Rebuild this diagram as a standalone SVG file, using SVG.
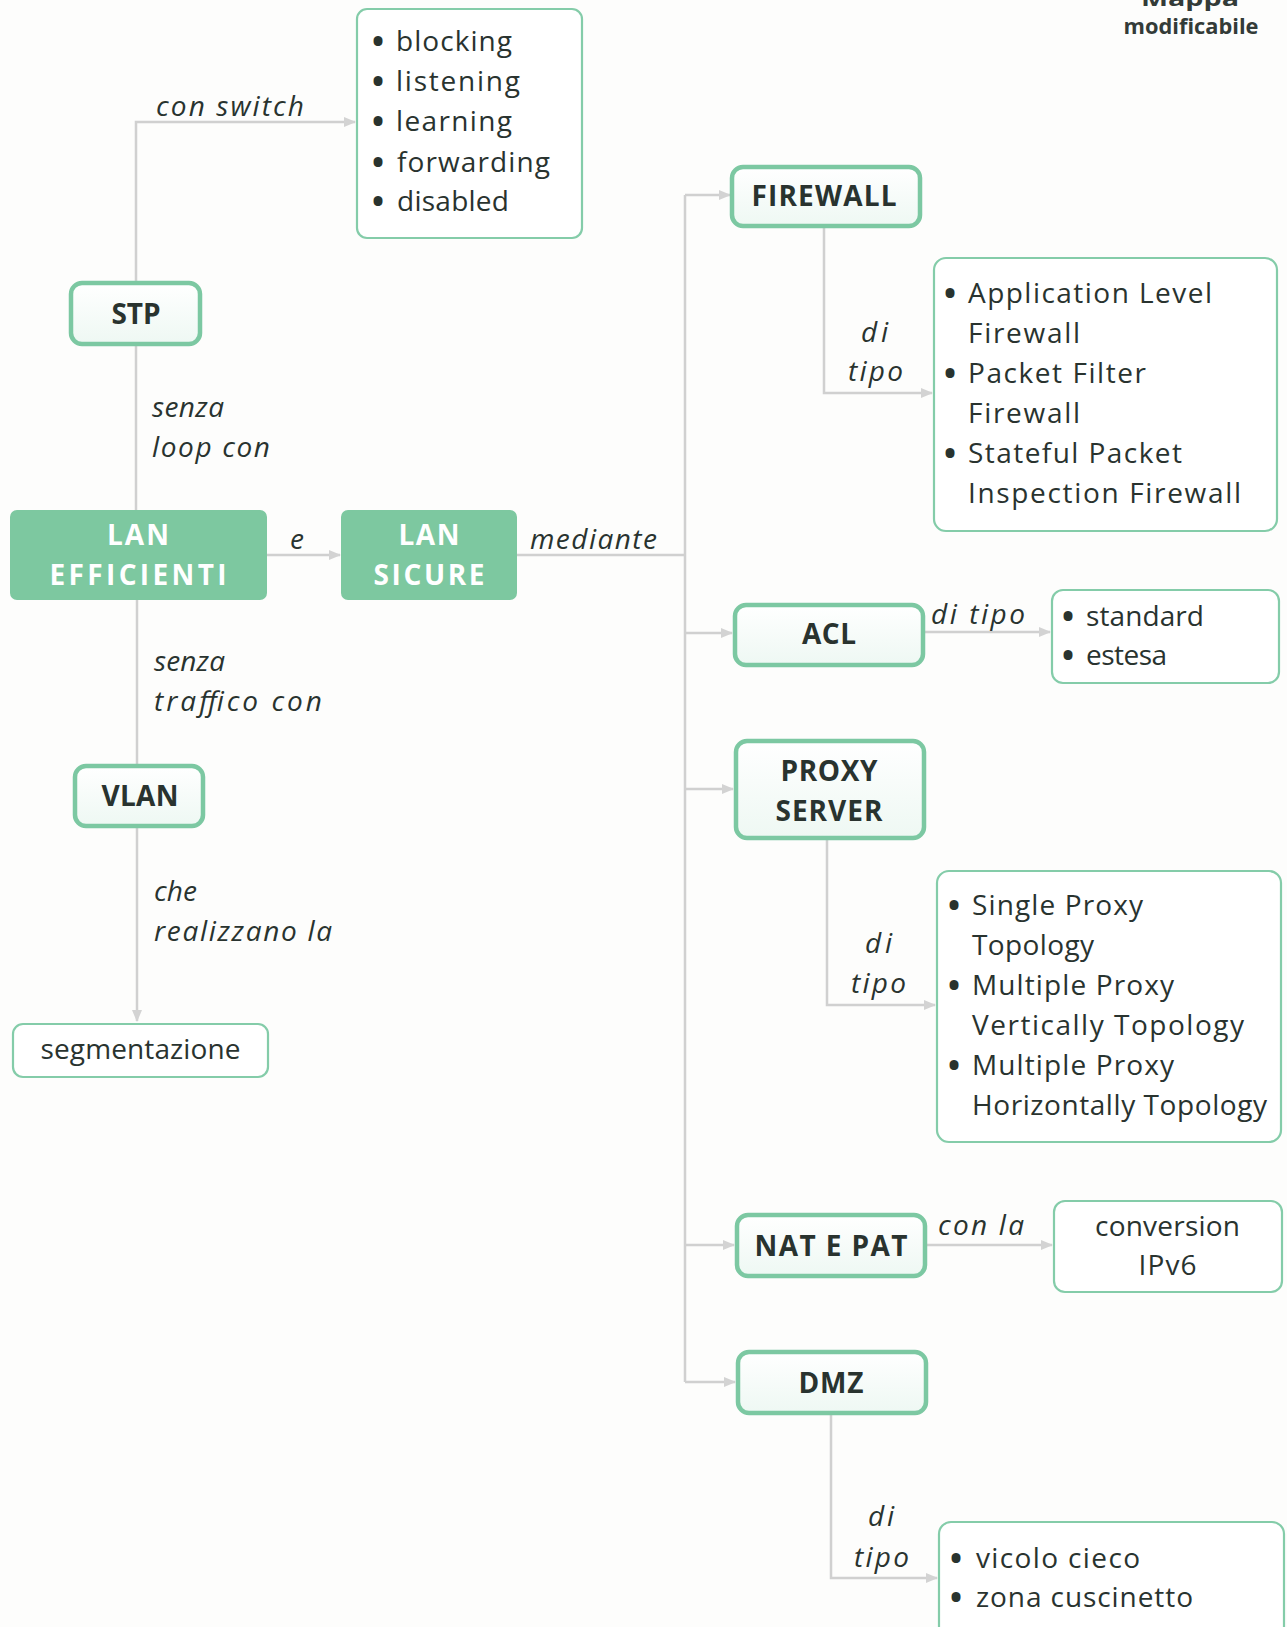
<svg xmlns="http://www.w3.org/2000/svg" width="1287" height="1627" viewBox="0 0 1287 1627">
  <defs>
    <marker id="arr" viewBox="0 0 12 10" refX="11" refY="5" markerWidth="12" markerHeight="10" markerUnits="userSpaceOnUse" orient="auto">
      <path d="M0,0 L12,5 L0,10 Z" fill="#d3d3d3"/>
    </marker>
    <linearGradient id="nodeFill" x1="0" y1="0" x2="0" y2="1">
      <stop offset="0" stop-color="#ffffff"/>
      <stop offset="1" stop-color="#eef8f3"/>
    </linearGradient>
  </defs>
  <style>
    .bg { fill: #fdfdfc; }
    .node rect { fill: url(#nodeFill); stroke: #7cc8a2; stroke-width: 4.5; }
    .solid rect { fill: #7dc8a0; stroke: #7dc8a0; stroke-width: 2; }
    .box rect { fill: #ffffff; stroke: #84cca9; stroke-width: 2.2; }
    text { font-family: "Open Sans", "DejaVu Sans", sans-serif; fill: #29332f; }
    .lbl { font-size: 28px; font-weight: 700; text-anchor: middle; }
    .solid text { fill: #ffffff; }
    .txt { font-size: 28px; }
    .dot { font-size: 32px; font-weight: 700; }
    .ctr { text-anchor: middle; }
    .it { font-size: 28px; font-style: italic; }
    .conn path { fill: none; stroke: #d0d0d0; stroke-width: 2.5; }
    .head { font-size: 22px; font-weight: 700; text-anchor: middle; fill: #333b38; }
  </style>

  <rect class="bg" x="0" y="0" width="1287" height="1627"/>

  <!-- corner caption -->
  <g id="caption">
    <text class="head" x="1190" y="6" textLength="98" lengthAdjust="spacingAndGlyphs">Mappa</text>
    <text class="head" x="1191" y="34" textLength="135" lengthAdjust="spacingAndGlyphs">modificabile</text>
  </g>

  <!-- connectors -->
  <g id="connectors" class="conn">
    <!-- STP to port states -->
    <path d="M136,282 V122 H355" marker-end="url(#arr)"/>
    <!-- LAN EFFICIENTI up to STP -->
    <path d="M136,511 V345"/>
    <!-- LAN EFFICIENTI down to VLAN -->
    <path d="M137,599 V765"/>
    <!-- VLAN to segmentazione -->
    <path d="M137,826 V1021" marker-end="url(#arr)"/>
    <!-- LAN EFFICIENTI to LAN SICURE -->
    <path d="M266,555 H340" marker-end="url(#arr)"/>
    <!-- LAN SICURE to trunk -->
    <path d="M516,555 H685"/>
    <!-- trunk -->
    <path d="M685,195 V1382"/>
    <path d="M685,195 H730" marker-end="url(#arr)"/>
    <path d="M685,633 H732" marker-end="url(#arr)"/>
    <path d="M685,789 H733" marker-end="url(#arr)"/>
    <path d="M685,1245 H734" marker-end="url(#arr)"/>
    <path d="M685,1382 H735" marker-end="url(#arr)"/>
    <!-- FIREWALL types -->
    <path d="M824,227 V393 H932" marker-end="url(#arr)"/>
    <!-- ACL types -->
    <path d="M923,632 H1050" marker-end="url(#arr)"/>
    <!-- PROXY types -->
    <path d="M827,839 V1005 H935" marker-end="url(#arr)"/>
    <!-- NAT conversion -->
    <path d="M925,1245 H1052" marker-end="url(#arr)"/>
    <!-- DMZ types -->
    <path d="M831,1414 V1578 H937" marker-end="url(#arr)"/>

    <!-- connector labels -->
    <text class="it" x="156" y="116" textLength="148">con switch</text>
    <text class="it" x="152" y="417" textLength="72">senza</text>
    <text class="it" x="152" y="457" textLength="118">loop con</text>
    <text class="it" x="290" y="549" textLength="13">e</text>
    <text class="it" x="530" y="549" textLength="127">mediante</text>
    <text class="it" x="154" y="671" textLength="71">senza</text>
    <text class="it" x="154" y="711" textLength="168">traffico con</text>
    <text class="it" x="154" y="901" textLength="43">che</text>
    <text class="it" x="154" y="941" textLength="178">realizzano la</text>
    <text class="it" x="861" y="342" textLength="27">di</text>
    <text class="it" x="848" y="381" textLength="55">tipo</text>
    <text class="it" x="931" y="624" textLength="94">di tipo</text>
    <text class="it" x="865" y="953" textLength="27">di</text>
    <text class="it" x="851" y="993" textLength="55">tipo</text>
    <text class="it" x="938" y="1235" textLength="86">con la</text>
    <text class="it" x="868" y="1526" textLength="26">di</text>
    <text class="it" x="854" y="1567" textLength="55">tipo</text>
  </g>

  <!-- port states -->
  <g id="stp-states" class="box">
    <rect x="357" y="9" width="225" height="229" rx="10"/>
    <text class="dot" x="372" y="53">•</text>
    <text class="txt" x="396" y="51" textLength="116">blocking</text>
    <text class="dot" x="372" y="93">•</text>
    <text class="txt" x="396" y="91" textLength="124">listening</text>
    <text class="dot" x="372" y="133">•</text>
    <text class="txt" x="396" y="131" textLength="116">learning</text>
    <text class="dot" x="372" y="174">•</text>
    <text class="txt" x="397" y="172" textLength="153">forwarding</text>
    <text class="dot" x="372" y="213">•</text>
    <text class="txt" x="397" y="211" textLength="112">disabled</text>
  </g>

  <g id="stp" class="node">
    <rect x="71" y="283" width="129" height="61" rx="11"/>
    <text class="lbl" x="136" y="324" textLength="49">STP</text>
  </g>

  <g id="lan-efficienti" class="solid">
    <rect x="11" y="511" width="255" height="88" rx="6"/>
    <text class="lbl" x="138" y="545" textLength="62">LAN</text>
    <text class="lbl" x="138" y="585" textLength="177">EFFICIENTI</text>
  </g>

  <g id="lan-sicure" class="solid">
    <rect x="342" y="511" width="174" height="88" rx="6"/>
    <text class="lbl" x="429" y="545" textLength="61">LAN</text>
    <text class="lbl" x="429" y="585" textLength="111">SICURE</text>
  </g>

  <g id="vlan" class="node">
    <rect x="75" y="766" width="128" height="60" rx="11"/>
    <text class="lbl" x="140" y="806" textLength="77">VLAN</text>
  </g>

  <g id="segmentazione" class="box">
    <rect x="13" y="1024" width="255" height="53" rx="10"/>
    <text class="txt ctr" x="140.5" y="1059" textLength="200">segmentazione</text>
  </g>

  <g id="firewall" class="node">
    <rect x="732" y="167" width="188" height="59" rx="11"/>
    <text class="lbl" x="824" y="206" textLength="145">FIREWALL</text>
  </g>

  <g id="firewall-types" class="box">
    <rect x="934" y="258" width="343" height="273" rx="12"/>
    <text class="dot" x="944" y="305">•</text>
    <text class="txt" x="968" y="303" textLength="244">Application Level</text>
    <text class="txt" x="968" y="343" textLength="112">Firewall</text>
    <text class="dot" x="944" y="385">•</text>
    <text class="txt" x="968" y="383" textLength="178">Packet Filter</text>
    <text class="txt" x="968" y="423" textLength="112">Firewall</text>
    <text class="dot" x="944" y="465">•</text>
    <text class="txt" x="968" y="463" textLength="214">Stateful Packet</text>
    <text class="txt" x="968" y="503" textLength="273">Inspection Firewall</text>
  </g>

  <g id="acl" class="node">
    <rect x="735" y="605" width="188" height="60" rx="11"/>
    <text class="lbl" x="829" y="644" textLength="54">ACL</text>
  </g>

  <g id="acl-types" class="box">
    <rect x="1052" y="590" width="227" height="93" rx="11"/>
    <text class="dot" x="1062" y="628">•</text>
    <text class="txt" x="1086" y="626" textLength="118">standard</text>
    <text class="dot" x="1062" y="667">•</text>
    <text class="txt" x="1086" y="665" textLength="81">estesa</text>
  </g>

  <g id="proxy-server" class="node">
    <rect x="736" y="741" width="188" height="97" rx="11"/>
    <text class="lbl" x="829" y="781" textLength="97">PROXY</text>
    <text class="lbl" x="829" y="821" textLength="107">SERVER</text>
  </g>

  <g id="proxy-types" class="box">
    <rect x="937" y="871" width="344" height="271" rx="12"/>
    <text class="dot" x="948" y="917">•</text>
    <text class="txt" x="972" y="915" textLength="171">Single Proxy</text>
    <text class="txt" x="972" y="955" textLength="122">Topology</text>
    <text class="dot" x="948" y="997">•</text>
    <text class="txt" x="972" y="995" textLength="202">Multiple Proxy</text>
    <text class="txt" x="972" y="1035" textLength="272">Vertically Topology</text>
    <text class="dot" x="948" y="1077">•</text>
    <text class="txt" x="972" y="1075" textLength="202">Multiple Proxy</text>
    <text class="txt" x="972" y="1115" textLength="295">Horizontally Topology</text>
  </g>

  <g id="nat-pat" class="node">
    <rect x="737" y="1215" width="188" height="61" rx="11"/>
    <text class="lbl" x="831" y="1256" textLength="153">NAT E PAT</text>
  </g>

  <g id="conversion" class="box">
    <rect x="1054" y="1201" width="228" height="91" rx="11"/>
    <text class="txt ctr" x="1167.5" y="1236" textLength="145">conversion</text>
    <text class="txt ctr" x="1167.5" y="1275" textLength="58">IPv6</text>
  </g>

  <g id="dmz" class="node">
    <rect x="738" y="1352" width="188" height="61" rx="11"/>
    <text class="lbl" x="831" y="1393" textLength="65">DMZ</text>
  </g>

  <g id="dmz-types" class="box">
    <rect x="939" y="1522" width="345" height="120" rx="12"/>
    <text class="dot" x="950" y="1570">•</text>
    <text class="txt" x="976" y="1568" textLength="164">vicolo cieco</text>
    <text class="dot" x="950" y="1609">•</text>
    <text class="txt" x="976" y="1607" textLength="217">zona cuscinetto</text>
  </g>
</svg>
